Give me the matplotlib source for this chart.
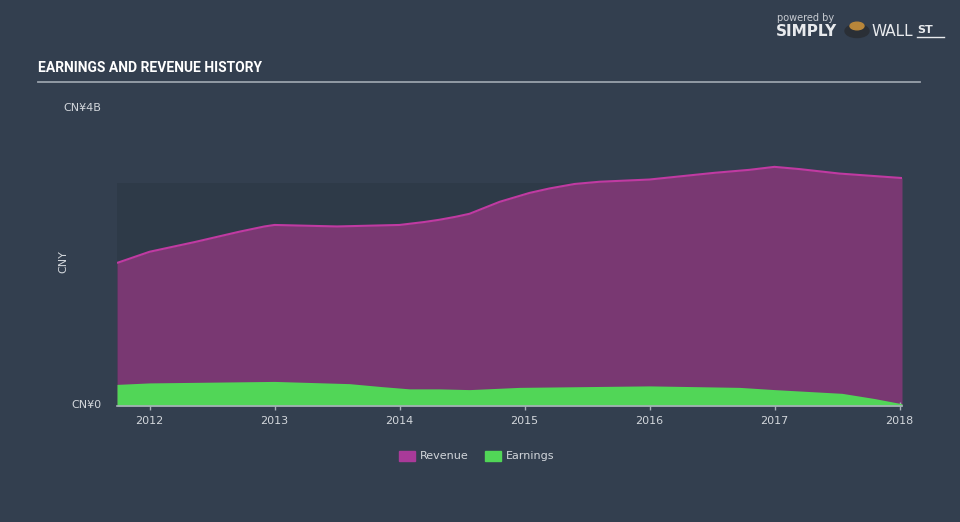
import matplotlib
matplotlib.use("Agg")
import matplotlib.pyplot as plt
from matplotlib.patches import Rectangle, Circle

# ---- data (CNY billions) ----
rev_t = [2011.74, 2012.0, 2012.36, 2012.72, 2012.92, 2013.0, 2013.5, 2014.0, 2014.2, 2014.32,
         2014.45, 2014.56, 2014.68, 2014.8, 2015.04, 2015.2, 2015.4, 2015.6, 2016.0,
         2016.52, 2016.8, 2017.0, 2017.2, 2017.52, 2018.02]
revenue = [1.92, 2.07, 2.20, 2.34, 2.41, 2.43, 2.41, 2.43, 2.47, 2.50,
           2.54, 2.58, 2.66, 2.74, 2.86, 2.92, 2.98, 3.01, 3.04,
           3.13, 3.17, 3.21, 3.18, 3.12, 3.06]
earn_t = [2011.74, 2012.0, 2013.0, 2013.6, 2013.86, 2014.08, 2014.32, 2014.56, 2014.96,
          2016.0, 2016.72, 2017.0, 2017.54, 2017.8, 2018.02]
earnings = [0.29, 0.31, 0.33, 0.30, 0.26, 0.23, 0.23, 0.22, 0.25,
            0.27, 0.25, 0.22, 0.17, 0.10, 0.03]
years = [2012, 2013, 2014, 2015, 2016, 2017, 2018]
year_labels = ["2012", "2013", "2014", "2015", "2016", "2017", "2018"]

BG = "#333f4f"
BAND = "#2e3a48"
REV_FILL = "#793872"
REV_LINE = "#c03aa2"
EARN = "#51d657"
TXT = "#d2d6db"

fig = plt.figure(figsize=(9.6, 5.22), dpi=100, facecolor=BG)
ax = fig.add_axes([117/960, 1-406/522, 785/960, 298/522])
ax.set_facecolor(BG)
ax.set_xlim(rev_t[0], rev_t[-1])
ax.set_ylim(0, 4)

ax.axhspan(0, 3, color=BAND, zorder=0, lw=0)
ax.fill_between(rev_t, revenue, 0, color=REV_FILL, lw=0, zorder=1)
ax.plot(rev_t, revenue, color=REV_LINE, lw=1.5, zorder=2, solid_capstyle="butt",
        solid_joinstyle="round")
ax.fill_between(earn_t, earnings, 0, color=EARN, lw=0, zorder=3)

for s in ["top", "right", "left"]:
    ax.spines[s].set_visible(False)
ax.spines["bottom"].set_color("#a8b0ba")
ax.spines["bottom"].set_linewidth(1.2)
ax.spines["bottom"].set_zorder(5)
ax.set_xticks(years)
ax.set_xticklabels(year_labels)
ax.tick_params(axis="x", colors="#a8b0ba", length=6, width=1, labelcolor=TXT,
               labelsize=8, pad=4, direction="inout")
ax.set_yticks([])

# y labels
fig.text(101/960, 1-108/522, "CN¥4B", color=TXT, fontsize=8, ha="right", va="center")
fig.text(101/960, 1-405/522, "CN¥0", color=TXT, fontsize=8, ha="right", va="center")
fig.text(63/960, 1-262/522, "CNY", color=TXT, fontsize=8, ha="center", va="center", rotation=90)

# title
fig.text(38/960, 1-68/522, "EARNINGS AND REVENUE HISTORY", color="white", fontsize=10,
         fontweight="bold", family=["Roboto", "DejaVu Sans"],
         ha="left", va="center")
fig.add_artist(plt.Line2D([38/960, 920/960], [1-82/522, 1-82/522], color="#9aa2ac", lw=1.3))

# legend
fig.add_artist(Rectangle((399/960, 1-461/522), 16/960, 10/522, color="#a93a99", transform=fig.transFigure))
fig.text(420/960, 1-456/522, "Revenue", color=TXT, fontsize=8, ha="left", va="center")
fig.add_artist(Rectangle((485/960, 1-461/522), 16/960, 10/522, color=EARN, transform=fig.transFigure))
fig.text(506/960, 1-456/522, "Earnings", color=TXT, fontsize=8, ha="left", va="center")

# logo
fig.text(777/960, 1-18/522, "powered by", color="#c8ccd2", fontsize=7, ha="left", va="center")
fig.text(776/960, 1-32/522, "SIMPLY", color="#e8eaed", fontsize=11, fontweight="bold", ha="left", va="center")
fig.add_artist(Circle((857/960, 1-31/522), 12/960, color="#2a2f36", transform=fig.transFigure))
fig.add_artist(Circle((857/960, 1-26/522), 7/960, color="#b8863a", transform=fig.transFigure))
fig.text(872/960, 1-32/522, "WALL", color="#e8eaed", fontsize=11, ha="left", va="center")
fig.text(917/960, 1-30/522, "ST", color="#e8eaed", fontsize=8, fontweight="bold", ha="left", va="center")
fig.add_artist(plt.Line2D([917/960, 944/960], [1-37/522, 1-37/522], color="#e8eaed", lw=1))

fig.savefig("out.png", dpi=100, facecolor=BG)
